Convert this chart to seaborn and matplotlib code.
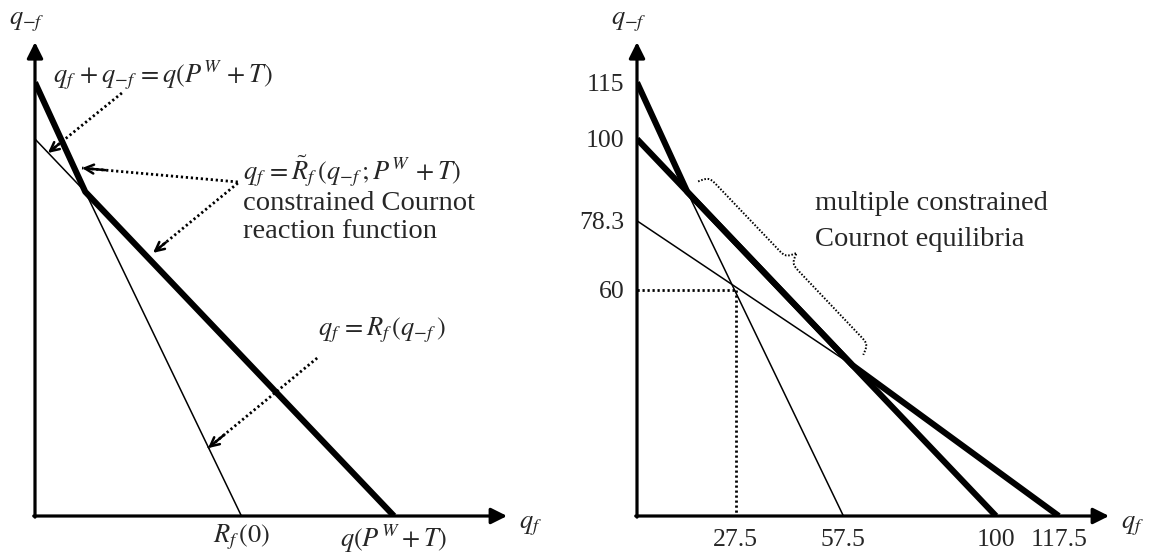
import numpy as np
import pandas as pd
import seaborn as sns
import matplotlib.pyplot as plt

# Line data (q_f on x, q_-f on y)
cons_react_f_x = [0, 14, 100]        # constrained reaction function of f (thick)
cons_react_f_y = [115, 86, 0]
cons_react_o_x = [0, 60, 117.5]      # constrained reaction function of -f (thick)
cons_react_o_y = [100, 40, 0]
react_f_x = [14, 57.5]               # unconstrained R_f below the constraint (thin)
react_f_y = [86, 0]
react_o_x = [0, 60]                  # unconstrained R_-f above the constraint (thin)
react_o_y = [78.3, 40]
constraint_x = [0, 14]               # q_f + q_-f = q(P^W+T) beyond the kink (thin)
constraint_y = [100, 86]
nash_x, nash_y = 27.5, 60
eq_low = (14, 86)
eq_high = (60, 40)

left_xticks = [57.5, 100]
left_xlabels = [r'$R_f\,(0)$', r'$q(P^W+T)$']
right_xticks = [27.5, 57.5, 100, 117.5]
right_xlabels = ['27.5', '57.5', '100', '117.5']
right_yticks = [115, 100, 78.3, 60]
right_ylabels = ['115', '100', '78.3', '60']

sns.set_theme(style='white')
plt.rcParams['font.family'] = ['Liberation Serif', 'DejaVu Serif']
plt.rcParams['mathtext.fontset'] = 'stix'

W, H = 1156, 559
PX_X, PX_Y = 3.59, 3.77
XMAX, YMAX = 135, 127
X_TIP, Y_TIP = 131.5, 125.7

fig = plt.figure(figsize=(W / 100, H / 100), dpi=100)
ax_l = fig.add_axes([35 / W, 43 / H, XMAX * PX_X / W, YMAX * PX_Y / H])
ax_r = fig.add_axes([637 / W, 43 / H, XMAX * PX_X / W, YMAX * PX_Y / H])

THICK, THIN, AXLW = 4.4, 1.1, 2.3
DOT = (0, (0.8, 1.0))


def draw_line(ax, xs, ys, lw):
    df = pd.DataFrame({'q_f': xs, 'q_mf': ys})
    sns.lineplot(data=df, x='q_f', y='q_mf', sort=False, estimator=None,
                 color='black', lw=lw, ax=ax, solid_capstyle='butt')


def setup(ax):
    ax.set_xlim(0, XMAX)
    ax.set_ylim(0, YMAX)
    for s in ax.spines.values():
        s.set_visible(False)
    ax.set_xlabel('')
    ax.set_ylabel('')
    ax.tick_params(length=0, labelsize=18, pad=9)
    ax.set_xticks([])
    ax.set_yticks([])
    # axis arrows
    ax.annotate('', xy=(X_TIP, 0), xytext=(-0.35, 0), annotation_clip=False,
                arrowprops=dict(arrowstyle='-|>', lw=AXLW, color='black',
                                mutation_scale=24, shrinkA=0, shrinkB=0))
    ax.annotate('', xy=(0, Y_TIP), xytext=(0, -0.3), annotation_clip=False,
                arrowprops=dict(arrowstyle='-|>', lw=AXLW, color='black',
                                mutation_scale=24, shrinkA=0, shrinkB=0))
    ax.text(-2.2, 131.0, r'$q_{-f}$', fontsize=19, ha='center', va='center')
    ax.text(138.0, -2.6, r'$q_f$', fontsize=19, ha='center', va='center')


def dotted_arrow(ax, start, end):
    ax.plot([start[0], end[0]], [start[1], end[1]], color='black', lw=2.0, ls=DOT)
    tail = (end[0] + 0.15 * (start[0] - end[0]), end[1] + 0.15 * (start[1] - end[1]))
    ax.annotate('', xy=end, xytext=tail,
                arrowprops=dict(arrowstyle='->', lw=1.8, color='black',
                                mutation_scale=16, shrinkA=0, shrinkB=0))


# ---- left panel ----
setup(ax_l)
draw_line(ax_l, constraint_x, constraint_y, THIN)
draw_line(ax_l, react_f_x, react_f_y, THIN)
draw_line(ax_l, cons_react_f_x, cons_react_f_y, THICK)
ax_l.set_xlim(0, XMAX)
ax_l.set_ylim(0, YMAX)
ax_l.set_xlabel('')
ax_l.set_ylabel('')
ax_l.set_xticks(left_xticks, labels=left_xlabels, fontsize=19)
ax_l.tick_params(axis='x', pad=5)
ax_l.set_yticks([])

ax_l.text(35.7, 117.0, r'$q_f\,+q_{-f}\,=q(P^W\,+T)$', fontsize=19, ha='center', va='center')
ax_l.text(57.9, 91.6, r'$q_f\,=\tilde{R}_f\,(q_{-f}\,;P^W\,+T)$', fontsize=19, ha='left', va='center')
ax_l.text(57.9, 83.0, 'constrained Cournot', fontsize=20.5, ha='left', va='center')
ax_l.text(57.9, 75.4, 'reaction function', fontsize=20.5, ha='left', va='center')
ax_l.text(78.8, 49.3, r'$q_f\,=R_f\,(q_{-f}\,)$', fontsize=19, ha='left', va='center')

dotted_arrow(ax_l, (24.2, 112.2), (3.6, 96.3))
dotted_arrow(ax_l, (56.5, 88.6), (13.1, 92.3))
dotted_arrow(ax_l, (56.5, 88.3), (32.9, 69.8))
dotted_arrow(ax_l, (78.6, 41.9), (48.2, 18.0))

# ---- right panel ----
setup(ax_r)
ax_r.plot([0, nash_x], [nash_y, nash_y], color='black', lw=2.0, ls=DOT)
ax_r.plot([nash_x, nash_x], [nash_y, 0], color='black', lw=2.0, ls=DOT)
draw_line(ax_r, react_f_x, react_f_y, THIN)
draw_line(ax_r, react_o_x, react_o_y, THIN)
draw_line(ax_r, cons_react_f_x, cons_react_f_y, THICK)
draw_line(ax_r, cons_react_o_x, cons_react_o_y, THICK)
ax_r.set_xlim(0, XMAX)
ax_r.set_ylim(0, YMAX)
ax_r.set_xlabel('')
ax_r.set_ylabel('')
ax_r.set_xticks(right_xticks, labels=right_xlabels, fontsize=18.5)
ax_r.set_yticks(right_yticks, labels=right_ylabels, fontsize=18.5)

ax_r.text(49.6, 82.8, 'multiple constrained', fontsize=20.5, ha='left', va='center')
ax_r.text(49.6, 73.4, 'Cournot equilibria', fontsize=20.5, ha='left', va='center')

# curly brace along the segment of equilibria, built in pixel space
fig.canvas.draw()
p1 = ax_r.transData.transform(eq_low)
p2 = ax_r.transData.transform(eq_high)
d = p2 - p1
L = np.hypot(*d)
t = d / L
n = np.array([-t[1], t[0]])
u = np.linspace(0, L / 2, 200)
b = 0.45
half = 1 / (1 + np.exp(-b * (u - u[0]))) + 1 / (1 + np.exp(-b * (u - u[-1])))
yb = np.concatenate([half, half[-2::-1]])
ub = np.concatenate([u, L - u[-2::-1]])
off = 15 + 22 * (yb - 0.5)
pts = p1 + np.outer(ub, t) + np.outer(off, n)
brace = ax_r.transData.inverted().transform(pts)
ax_r.plot(brace[:, 0], brace[:, 1], color='black', lw=1.4, ls=(0, (0.8, 0.9)))

fig.savefig('out.png', dpi=100)
